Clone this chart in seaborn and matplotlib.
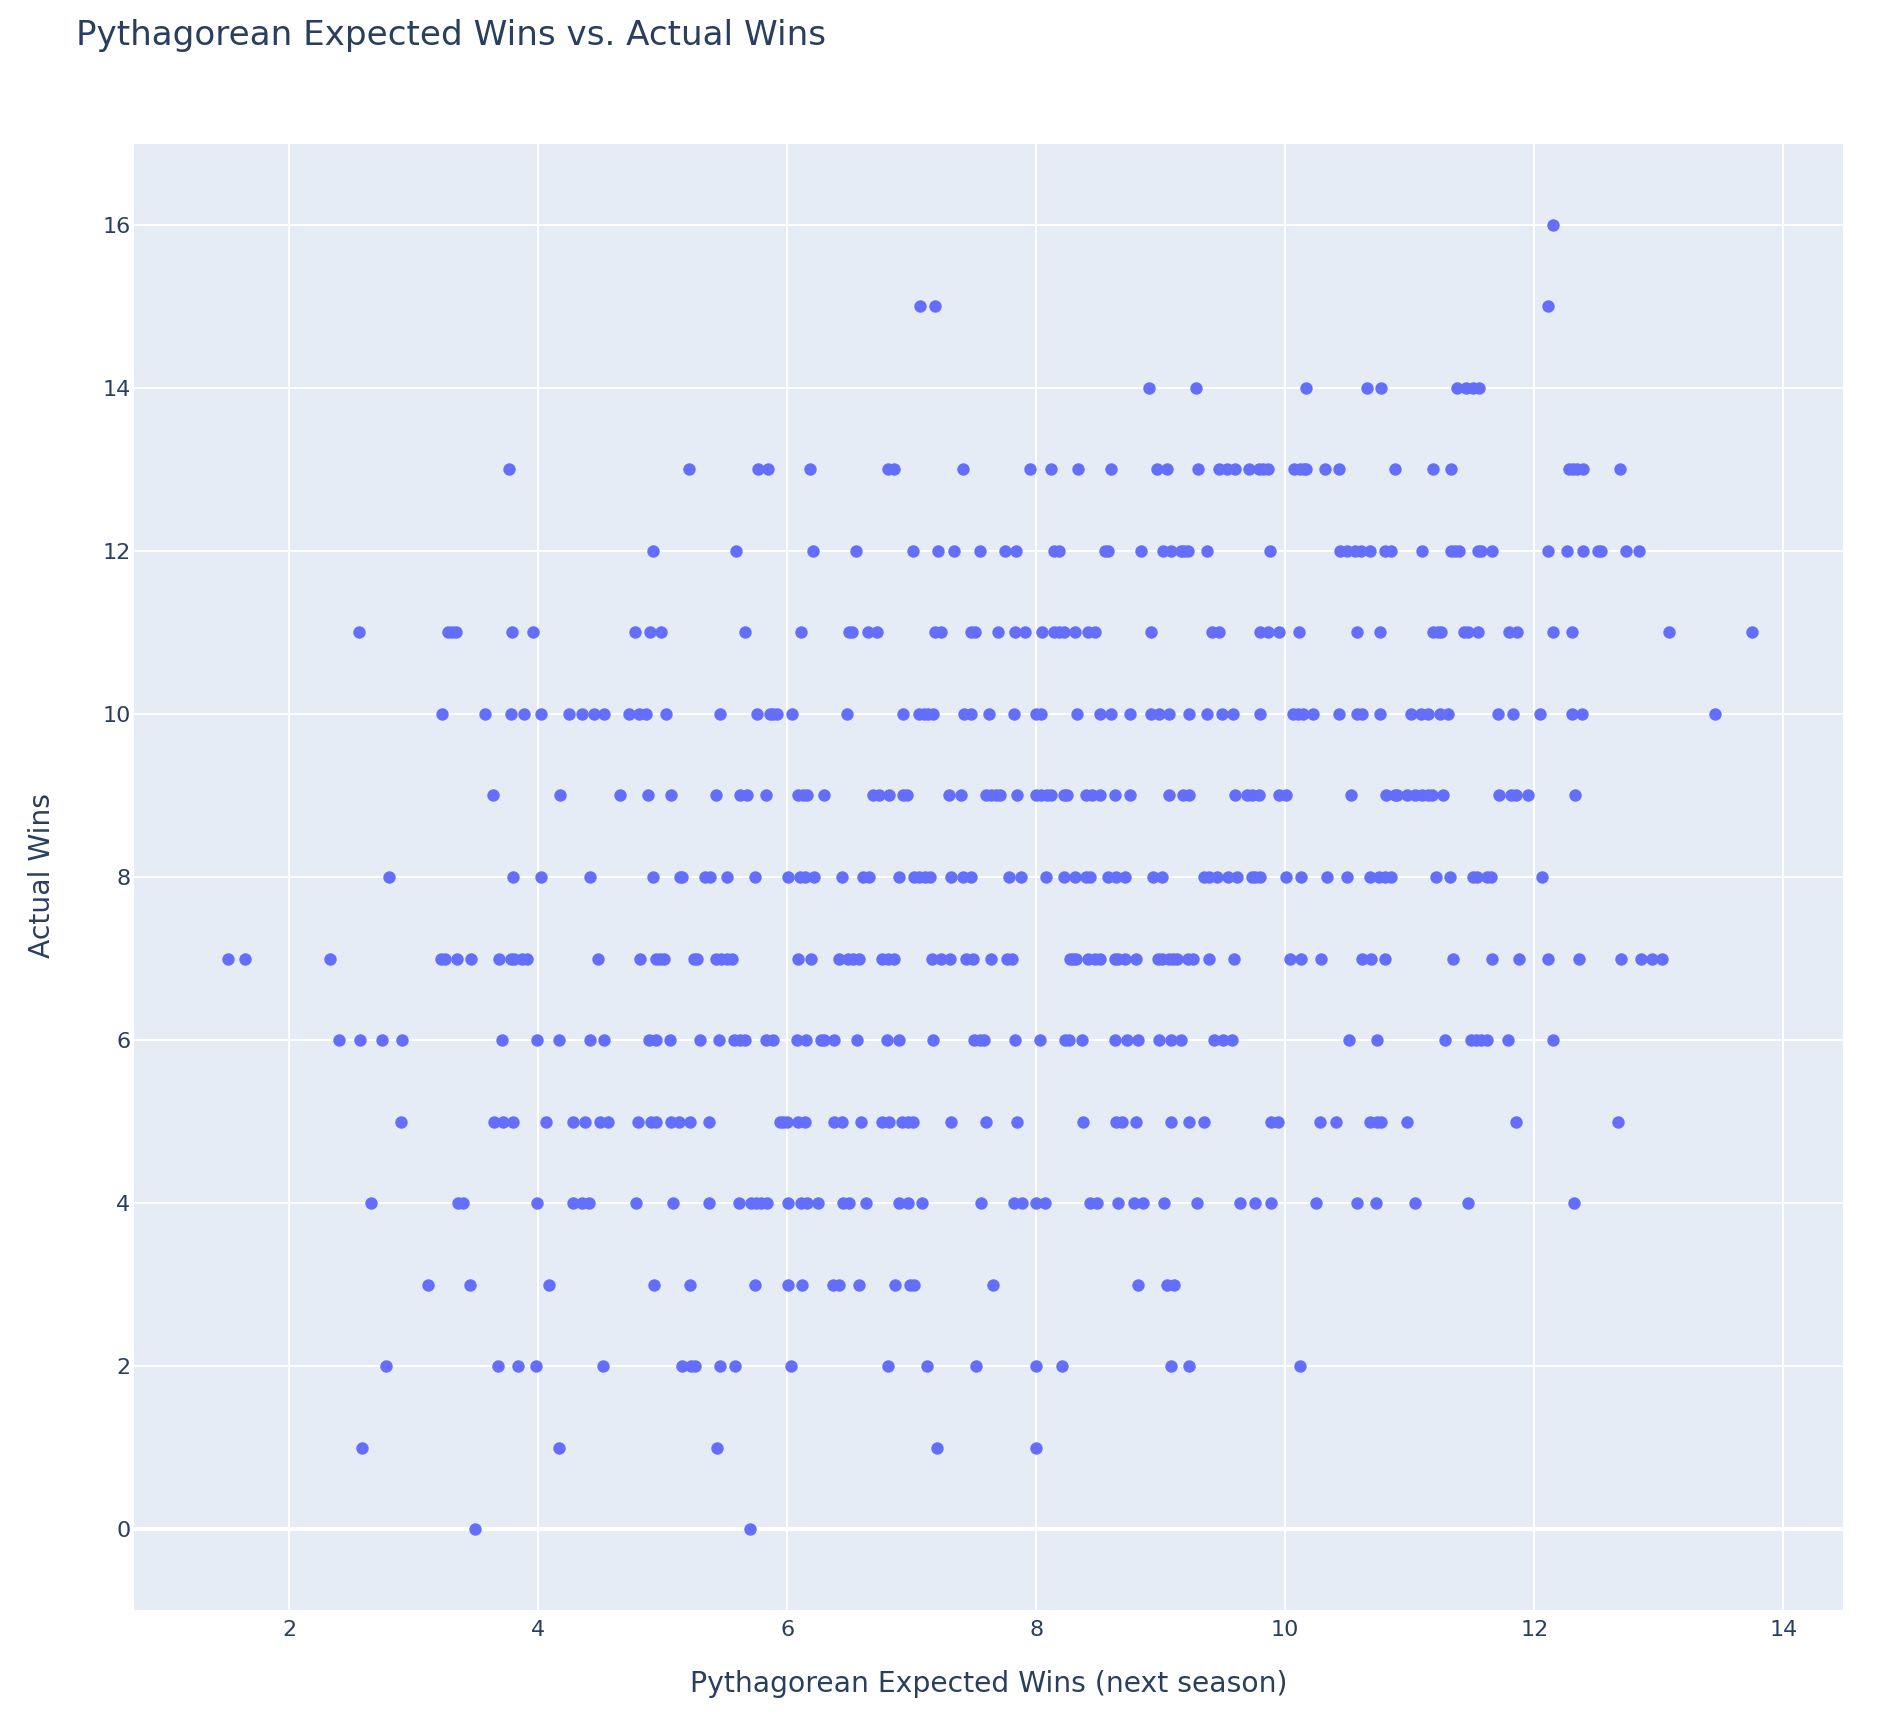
import matplotlib
matplotlib.use("Agg")
import matplotlib.pyplot as plt
import pandas as pd
import seaborn as sns

# ── Data, one list per actual-wins value ──────────────────────
wins_16 = [12.15]
wins_15 = [7.07, 7.19, 12.11]
wins_14 = [8.91, 9.28, 10.17, 10.66, 10.77, 11.38, 11.45, 11.51, 11.56]
wins_13 = [3.77, 5.21, 5.77, 5.85, 6.18, 6.81, 6.86, 7.41, 7.95, 8.12, 8.34, 8.60,
           8.97, 9.05, 9.30, 9.47, 9.53, 9.60, 9.71, 9.79, 9.82, 9.86, 10.07, 10.12,
           10.15, 10.17, 10.32, 10.43, 10.88, 11.19, 11.33, 12.28, 12.31, 12.34,
           12.39, 12.69]
wins_12 = [4.92, 5.59, 6.21, 6.55, 7.01, 7.21, 7.34, 7.55, 7.75, 7.84, 8.14, 8.18,
           8.55, 8.58, 8.84, 9.02, 9.08, 9.16, 9.19, 9.22, 9.37, 9.88, 10.44, 10.50,
           10.56, 10.61, 10.68, 10.80, 10.85, 11.10, 11.33, 11.36, 11.40, 11.55,
           11.57, 11.66, 12.11, 12.26, 12.39, 12.51, 12.54, 12.74, 12.84]
wins_11 = [2.56, 3.28, 3.31, 3.34, 3.79, 3.96, 4.78, 4.90, 4.99, 5.66, 6.11, 6.50,
           6.52, 6.65, 6.72, 7.19, 7.24, 7.48, 7.51, 7.69, 7.83, 7.91, 8.05, 8.14,
           8.18, 8.22, 8.31, 8.42, 8.47, 8.92, 9.41, 9.47, 9.80, 9.86, 9.95, 10.11,
           10.58, 10.76, 11.19, 11.23, 11.25, 11.44, 11.47, 11.55, 11.80, 11.86,
           12.15, 12.30, 13.08, 13.75]
wins_10 = [3.23, 3.57, 3.78, 3.89, 4.02, 4.25, 4.35, 4.45, 4.53, 4.73, 4.81, 4.87,
           5.03, 5.46, 5.76, 5.86, 5.89, 5.92, 6.04, 6.48, 6.93, 7.06, 7.10, 7.13,
           7.17, 7.42, 7.48, 7.62, 7.82, 8.00, 8.04, 8.33, 8.51, 8.60, 8.75, 8.92,
           8.99, 9.07, 9.23, 9.37, 9.49, 9.58, 9.80, 10.06, 10.10, 10.14, 10.22,
           10.43, 10.58, 10.62, 10.76, 11.01, 11.09, 11.15, 11.24, 11.31, 11.71,
           11.83, 12.05, 12.30, 12.38, 13.45]
wins_9 = [3.64, 4.18, 4.66, 4.88, 5.07, 5.43, 5.62, 5.68, 5.83, 6.09, 6.13, 6.16,
          6.30, 6.69, 6.74, 6.82, 6.93, 6.96, 7.30, 7.40, 7.60, 7.64, 7.68, 7.71,
          7.85, 8.00, 8.04, 8.09, 8.12, 8.22, 8.25, 8.40, 8.45, 8.51, 8.63, 8.75,
          9.07, 9.18, 9.23, 9.60, 9.69, 9.73, 9.79, 9.95, 10.01, 10.53, 10.81,
          10.88, 10.90, 10.98, 11.04, 11.10, 11.15, 11.18, 11.27, 11.72, 11.81,
          11.85, 11.95, 12.33]
wins_8 = [2.80, 3.80, 4.02, 4.42, 4.92, 5.14, 5.16, 5.34, 5.38, 5.52, 5.74, 6.01,
          6.10, 6.14, 6.22, 6.44, 6.61, 6.66, 6.90, 7.02, 7.06, 7.11, 7.15, 7.32,
          7.41, 7.48, 7.78, 7.88, 8.08, 8.22, 8.31, 8.40, 8.43, 8.58, 8.64, 8.71,
          8.94, 9.01, 9.35, 9.39, 9.45, 9.54, 9.61, 9.73, 9.76, 9.80, 10.01, 10.13,
          10.34, 10.50, 10.68, 10.75, 10.80, 10.85, 11.21, 11.32, 11.51, 11.54,
          11.62, 11.65, 12.06]
wins_7 = [1.51, 1.65, 2.33, 3.22, 3.25, 3.35, 3.46, 3.69, 3.78, 3.81, 3.87, 3.91,
          4.48, 4.82, 4.95, 4.98, 5.01, 5.25, 5.28, 5.43, 5.47, 5.52, 5.56, 6.09,
          6.19, 6.42, 6.49, 6.53, 6.58, 6.76, 6.81, 6.86, 7.16, 7.24, 7.31, 7.44,
          7.49, 7.64, 7.77, 7.81, 8.27, 8.30, 8.32, 8.42, 8.47, 8.51, 8.63, 8.66,
          8.71, 8.80, 8.98, 9.01, 9.07, 9.10, 9.13, 9.22, 9.26, 9.39, 9.59, 10.04,
          10.13, 10.29, 10.62, 10.69, 10.80, 11.35, 11.66, 11.88, 12.11, 12.36,
          12.70, 12.86, 12.95, 13.03]
wins_6 = [2.40, 2.57, 2.75, 2.91, 3.71, 3.99, 4.17, 4.42, 4.53, 4.89, 4.95, 5.06,
          5.30, 5.45, 5.57, 5.62, 5.66, 5.83, 5.89, 6.08, 6.15, 6.27, 6.30, 6.38,
          6.56, 6.80, 6.90, 7.17, 7.50, 7.55, 7.58, 7.83, 8.03, 8.23, 8.26, 8.37,
          8.63, 8.73, 8.82, 8.99, 9.08, 9.16, 9.43, 9.50, 9.57, 10.51, 10.74, 11.28,
          11.49, 11.53, 11.57, 11.62, 11.79, 12.15]
wins_5 = [2.90, 3.65, 3.72, 3.80, 4.06, 4.28, 4.38, 4.50, 4.56, 4.80, 4.91, 4.95,
          5.07, 5.13, 5.22, 5.37, 5.94, 5.97, 6.00, 6.09, 6.14, 6.38, 6.44, 6.59,
          6.76, 6.82, 6.92, 6.97, 7.01, 7.32, 7.60, 7.85, 8.38, 8.64, 8.69, 8.80,
          9.08, 9.23, 9.35, 9.89, 9.94, 10.28, 10.41, 10.68, 10.74, 10.77, 10.98,
          11.85, 12.67]
wins_4 = [2.66, 3.36, 3.40, 3.99, 4.28, 4.35, 4.41, 4.79, 5.08, 5.37, 5.61, 5.71,
          5.75, 5.79, 5.84, 6.01, 6.11, 6.16, 6.25, 6.45, 6.50, 6.63, 6.90, 6.97,
          7.08, 7.56, 7.82, 7.89, 8.00, 8.07, 8.43, 8.49, 8.66, 8.79, 8.86, 9.03,
          9.29, 9.64, 9.76, 9.89, 10.25, 10.58, 10.73, 11.04, 11.47, 12.32]
wins_3 = [3.12, 3.45, 4.09, 4.93, 5.22, 5.74, 6.01, 6.12, 6.37, 6.42, 6.58, 6.87,
          6.99, 7.02, 7.65, 8.82, 9.05, 9.11]
wins_2 = [2.78, 3.68, 3.84, 3.98, 4.52, 5.16, 5.23, 5.26, 5.46, 5.58, 6.03, 6.81,
          7.12, 7.52, 8.00, 8.21, 9.08, 9.23, 10.12]
wins_1 = [2.59, 4.17, 5.44, 7.20, 8.00]
wins_0 = [3.49, 5.70]

x_ticks = [2, 4, 6, 8, 10, 12, 14]
y_ticks = [0, 2, 4, 6, 8, 10, 12, 14, 16]

rows = [wins_0, wins_1, wins_2, wins_3, wins_4, wins_5, wins_6, wins_7, wins_8,
        wins_9, wins_10, wins_11, wins_12, wins_13, wins_14, wins_15, wins_16]
df = pd.DataFrame(
    [(x, wins) for wins, row in enumerate(rows) for x in row],
    columns=["expected", "actual"],
)

# ── Style ─────────────────────────────────────────────────────
INK = "#2a3f5f"
sns.set_theme(style="darkgrid", rc={
    "axes.facecolor": "#e5ecf6",
    "grid.color": "white",
    "grid.linewidth": 1.45,
    "text.color": INK,
    "axes.labelcolor": INK,
    "xtick.color": INK,
    "ytick.color": INK,
})
plt.rcParams["font.family"] = ["DejaVu Sans"]

W, H = 1884, 1718
fig = plt.figure(figsize=(W / 100, H / 100), dpi=100)
ax = fig.add_axes([134 / W, 1 - 1610 / H, (1843 - 134) / W, (1610 - 144) / H])

# ── Plot ──────────────────────────────────────────────────────
ax.axhline(0, color="white", lw=2.9, zorder=1)
sns.scatterplot(data=df, x="expected", y="actual", ax=ax, color="#636efa",
                s=80, linewidth=0, alpha=1, zorder=3, clip_on=True)

ax.set_xlim(0.755, 14.48)
ax.set_ylim(-0.99, 16.99)
ax.set_xticks(x_ticks)
ax.set_yticks(y_ticks)
ax.tick_params(axis="both", length=0, labelsize=16)
ax.tick_params(axis="x", pad=7)
ax.tick_params(axis="y", pad=2.5)
for side in ax.spines.values():
    side.set_visible(False)

ax.set_xlabel("Pythagorean Expected Wins (next season)", fontsize=20.3)
ax.set_ylabel("Actual Wins", fontsize=20.3)
ax.xaxis.set_label_coords((989 - 134) / (1843 - 134), -(1670 - 1610) / (1610 - 144))
ax.yaxis.set_label_coords(-(134 - 56) / (1843 - 134), (1610 - 875) / (1610 - 144))

fig.text(76 / W, 1 - 36 / H, "Pythagorean Expected Wins vs. Actual Wins",
         fontsize=24.6, color=INK, ha="left", va="center")

fig.savefig("out.png", dpi=100)
